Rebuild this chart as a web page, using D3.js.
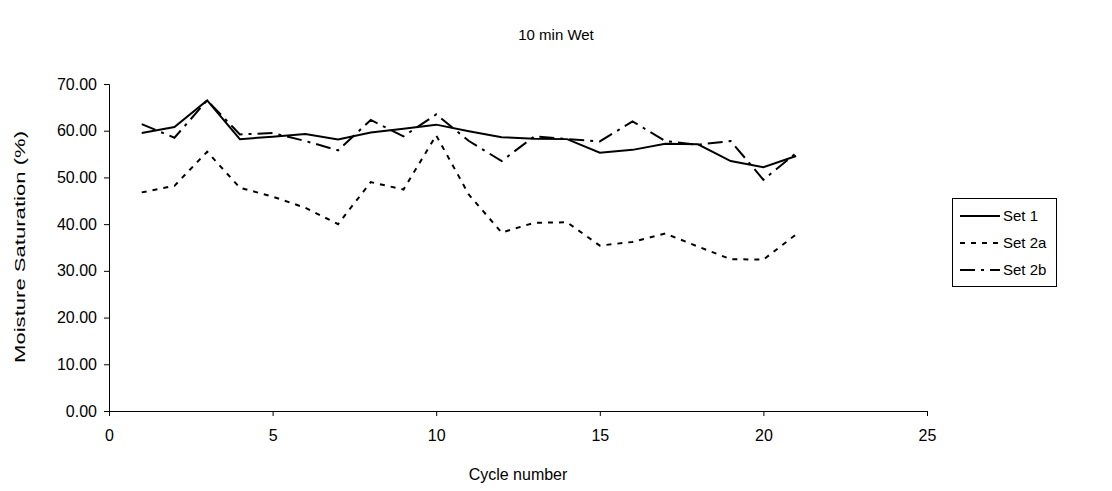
<!DOCTYPE html>
<html>
<head>
<meta charset="utf-8">
<script src="https://cdn.jsdelivr.net/npm/d3@7"></script>
<style>
  html, body { margin: 0; padding: 0; background: #fff; }
  svg { display: block; font-family: Arial, "Liberation Sans", sans-serif; }
</style>
</head>
<body>
<svg id="chart" width="1112" height="491"></svg>
<script>
// Moisture saturation per wetting cycle (10 min wet)
const cycles = [1, 2, 3, 4, 5, 6, 7, 8, 9, 10, 11, 12, 13, 14, 15, 16, 17, 18, 19, 20, 21];
const set1  = [59.5, 60.8, 66.5, 58.2, 58.7, 59.3, 58.1, 59.6, 60.4, 61.3, 59.9, 58.6, 58.3, 58.2, 55.3, 55.9, 57.2, 57.1, 53.5, 52.2, 54.6];
const set2a = [46.8, 48.2, 55.5, 47.8, 45.9, 43.5, 40.0, 49.0, 47.4, 59.0, 46.3, 38.2, 40.3, 40.4, 35.4, 36.2, 38.0, 35.2, 32.5, 32.4, 37.8];
const set2b = [61.4, 58.5, 66.5, 59.2, 59.5, 57.8, 55.8, 62.3, 58.8, 63.5, 57.8, 53.5, 58.8, 58.2, 57.7, 62.0, 57.8, 57.0, 57.8, 49.5, 55.2];

const seriesNames = ["Set 1", "Set 2a", "Set 2b"];
const xTicks = [0, 5, 10, 15, 20, 25];
const yTicks = [0, 10, 20, 30, 40, 50, 60, 70];

const series = [
  { name: seriesNames[0], values: set1,  dash: null },
  { name: seriesNames[1], values: set2a, dash: "5,6" },
  { name: seriesNames[2], values: set2b, dash: "15,6,3,6" }
];

const svg = d3.select("#chart");
const plot = { left: 109, right: 927, top: 84, bottom: 411 };

const x = d3.scaleLinear().domain([0, 25]).range([plot.left, plot.right]);
const y = d3.scaleLinear().domain([0, 70]).range([plot.bottom, plot.top]);

const font = "Arial, 'Liberation Sans', sans-serif";

// Title
svg.append("text")
  .attr("x", 556).attr("y", 40)
  .attr("text-anchor", "middle")
  .attr("font-size", 15)
  .text("10 min Wet");

// Y axis
const yAxis = svg.append("g")
  .attr("transform", `translate(${plot.left},0)`)
  .call(d3.axisLeft(y).tickValues(yTicks).tickFormat(d3.format(".2f")).tickSize(5).tickPadding(7));
yAxis.selectAll("text").attr("font-size", 16).attr("font-family", font).attr("fill", "#000");

// X axis
const xAxis = svg.append("g")
  .attr("transform", `translate(0,${plot.bottom})`)
  .call(d3.axisBottom(x).tickValues(xTicks).tickFormat(d3.format("d")).tickSize(5).tickPadding(14));
xAxis.selectAll("text").attr("font-size", 16).attr("font-family", font).attr("fill", "#000");

[yAxis, xAxis].forEach(g => {
  g.select(".domain").attr("stroke", "#000");
  g.selectAll(".tick line").attr("stroke", "#000");
});

// Axis titles
svg.append("text")
  .attr("transform", `translate(25,247) rotate(-90)`)
  .attr("text-anchor", "middle")
  .attr("font-size", 15)
  .attr("textLength", 232)
  .attr("lengthAdjust", "spacingAndGlyphs")
  .text("Moisture Saturation (%)");

svg.append("text")
  .attr("x", 518).attr("y", 480)
  .attr("text-anchor", "middle")
  .attr("font-size", 16)
  .text("Cycle number");

// Series lines
const line = d3.line()
  .x((d, i) => x(cycles[i]))
  .y(d => y(d));

svg.append("g").selectAll("path")
  .data(series)
  .join("path")
  .attr("d", d => line(d.values))
  .attr("fill", "none")
  .attr("stroke", "#000")
  .attr("stroke-width", 2)
  .attr("stroke-dasharray", d => d.dash);

// Legend
const legend = svg.append("g").attr("transform", "translate(952,198)");
legend.append("rect")
  .attr("x", 0.5).attr("y", 0.5)
  .attr("width", 104).attr("height", 88)
  .attr("fill", "#fff").attr("stroke", "#000");

const rows = legend.selectAll("g.row")
  .data(series)
  .join("g")
  .attr("class", "row")
  .attr("transform", (d, i) => `translate(0,${18 + i * 27})`);

rows.append("line")
  .attr("x1", 8).attr("x2", 48)
  .attr("y1", 0).attr("y2", 0)
  .attr("stroke", "#000")
  .attr("stroke-width", 2)
  .attr("stroke-dasharray", d => d.dash);

rows.append("text")
  .attr("x", 51).attr("y", 5)
  .attr("font-size", 15)
  .text(d => d.name);
</script>
</body>
</html>
